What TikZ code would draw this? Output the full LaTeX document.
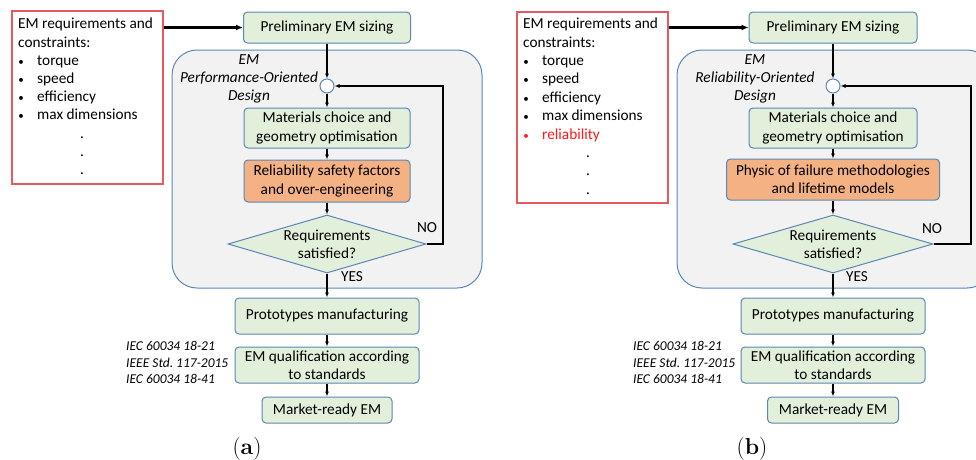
\documentclass[tikz,border=0pt]{standalone}
\usepackage{fontspec}
\newfontfamily\calibri{Carlito}
\usetikzlibrary{arrows.meta,shapes.geometric}
\definecolor{boxgreen}{HTML}{E2EFDA}
\definecolor{boxorange}{HTML}{F4B183}
\definecolor{boxedge}{HTML}{5A87B5}
\definecolor{greyfill}{HTML}{F2F2F2}
\definecolor{rededge}{HTML}{E8585F}
\definecolor{reltext}{HTML}{FF1A1A}
\newcommand{\smbullet}{{\fontsize{11}{11}\selectfont\textbullet}}
\tikzset{
  x=1pt, y=-1pt,
  txt/.style={font=\calibri\fontsize{15.3}{18.3}\selectfont, inner sep=0pt},
  item/.style={txt, anchor=base west},
  bul/.style={txt, anchor=base},
  box/.style={txt, draw=boxedge, line width=1pt, fill=boxgreen, rounded corners=4pt, align=center},
  obox/.style={box, fill=boxorange},
  dia/.style={draw=boxedge, line width=1pt, fill=boxgreen, diamond, inner sep=0pt},
  junc/.style={circle, draw=boxedge, line width=1pt, fill=white, minimum size=14pt, inner sep=0pt},
  redbox/.style={draw=rededge, line width=1.2pt, fill=white, inner sep=0pt},
  greybox/.style={draw=boxedge, line width=1pt, fill=greyfill, rounded corners=25pt},
  flow/.style={line width=1.3pt, -{Latex[length=5pt,width=4pt]}},
  bigflow/.style={line width=2.4pt, -{Latex[length=7pt,width=6pt]}},
  std/.style={font=\calibri\itshape\fontsize{13.5}{16.5}\selectfont, inner sep=0pt, anchor=base west},
  ttl/.style={txt, font=\calibri\itshape\fontsize{15.3}{18.3}\selectfont, align=center},
  subcap/.style={font=\fontsize{23}{26}\selectfont, inner sep=0pt, anchor=base}
}
\begin{document}
\begin{tikzpicture}
\useasboundingbox (0,0) rectangle (976,459);
\begin{scope}
\clip (0,0) rectangle (976,459);
% grey design regions
\path[greybox] (172,50) rectangle (482,288);
\path[greybox] (677,50) rectangle (992,288);
\end{scope}

%%%%%%%%%%%%%%%% Panel (a)
\node[redbox, minimum width=151pt, minimum height=173pt] (redA) at (87.5,97.5) {};
\node[item] (a1) at (18,28.7) {EM requirements and};
\node[item] (a2) at (18,47) {constraints:};
\node[bul] (ab1) at (21,65.2) {\smbullet};
\node[item] (ai1) at (37,65.2) {torque};
\node[bul] (ab2) at (21,83.4) {\smbullet};
\node[item] (ai2) at (37,83.4) {speed};
\node[bul] (ab3) at (21,101.6) {\smbullet};
\node[item] (ai3) at (37,101.6) {efficiency};
\node[bul] (ab4) at (21,119.8) {\smbullet};
\node[item] (ai4) at (37,119.8) {max dimensions};
\node[item] (ad1) at (80,138.5) {.};
\node[item] (ad2) at (80,156.5) {.};
\node[item] (ad3) at (80,174.5) {.};

\node[box, minimum width=167pt, minimum height=31pt] (preA) at (327,27.5) {Preliminary EM sizing};
\node[ttl] (tA) at (249,79) {EM\\Performance-Oriented\\Design};
\node[junc] (cA) at (327,86) {};
\node[box, minimum width=166pt, minimum height=40pt] (matA) at (327,128) {Materials choice and\\geometry optimisation};
\node[obox, minimum width=166pt, minimum height=42pt] (orA) at (327,181) {Reliability safety factors\\and over-engineering};
\node[dia, minimum width=198pt, minimum height=58pt] (dA) at (327,244) {};
\node[txt, align=center] (dtA) at (327,244) {Requirements\\satisfied?};
\node[box, minimum width=184pt, minimum height=36pt] (proA) at (327,316) {Prototypes manufacturing};
\node[box, minimum width=184pt, minimum height=36pt] (quA) at (327,365) {EM qualification according\\to standards};
\node[box, minimum width=130pt, minimum height=26pt] (mkA) at (327,410) {Market-ready EM};
\node[txt] (noA) at (427,228) {NO};
\node[txt] (yesA) at (352,277) {YES};
\node[std] (sA1) at (126,350) {IEC 60034 18-21};
\node[std] (sA2) at (126,367) {IEEE Std.\ 117-2015};
\node[std] (sA3) at (126,383.5) {IEC 60034 18-41};
\node[subcap] (capA) at (247,454) {(\textbf{a})};
\coordinate (fbA) at (443,86);

\draw[bigflow] (redA.east |- preA.west) -- (preA.west);
\draw[flow] (preA.south) -- (cA.north);
\draw[flow] (cA.south) -- (matA.north);
\draw[flow] (matA.south) -- (orA.north);
\draw[flow] (orA.south) -- (dA.north);
\draw[flow] (dA.south) -- (proA.north);
\draw[flow] (proA.south) -- (quA.north);
\draw[flow] (quA.south) -- (mkA.north);
\draw[flow] (dA.east) -| (fbA) -- (cA.east);

%%%%%%%%%%%%%%%% Panel (b)
\node[redbox, minimum width=151pt, minimum height=191pt] (redB) at (592.5,107.5) {};
\node[item] (b1) at (523,28.7) {EM requirements and};
\node[item] (b2) at (523,47) {constraints:};
\node[bul] (bb1) at (526,65.5) {\smbullet};
\node[item] (bi1) at (542,65.5) {torque};
\node[bul] (bb2) at (526,83.8) {\smbullet};
\node[item] (bi2) at (542,83.8) {speed};
\node[bul] (bb3) at (526,102) {\smbullet};
\node[item] (bi3) at (542,102) {efficiency};
\node[bul] (bb4) at (526,120.5) {\smbullet};
\node[item] (bi4) at (542,120.5) {max dimensions};
\node[bul, text=reltext] (bb5) at (526,139.5) {\smbullet};
\node[item, text=reltext] (bi5) at (542,139.5) {reliability};
\node[item] (bd1) at (586,157) {.};
\node[item] (bd2) at (586,175.5) {.};
\node[item] (bd3) at (586,194.5) {.};

\node[box, minimum width=168pt, minimum height=31pt] (preB) at (833,27.5) {Preliminary EM sizing};
\node[ttl] (tB) at (755,79) {EM\\Reliability-Oriented\\Design};
\node[junc] (cB) at (833,86) {};
\node[box, minimum width=168pt, minimum height=40pt] (matB) at (833,128) {Materials choice and\\geometry optimisation};
\node[obox, minimum width=213pt, minimum height=41pt] (orB) at (833,179.5) {Physic of failure methodologies\\and lifetime models};
\node[dia, minimum width=200pt, minimum height=58pt] (dB) at (833,244) {};
\node[txt, align=center] (dtB) at (833,244) {Requirements\\satisfied?};
\node[box, minimum width=184pt, minimum height=36pt] (proB) at (833,316) {Prototypes manufacturing};
\node[box, minimum width=184pt, minimum height=36pt] (quB) at (833,365) {EM qualification according\\to standards};
\node[box, minimum width=131pt, minimum height=26pt] (mkB) at (833,410) {Market-ready EM};
\node[txt] (noB) at (932,229) {NO};
\node[txt] (yesB) at (857,277) {YES};
\node[std] (sB1) at (633,350) {IEC 60034 18-21};
\node[std] (sB2) at (633,367) {IEEE Std.\ 117-2015};
\node[std] (sB3) at (633,383.5) {IEC 60034 18-41};
\node[subcap] (capB) at (752,454) {(\textbf{b})};
\coordinate (fbB) at (971,86);

\draw[bigflow] (redB.east |- preB.west) -- (preB.west);
\draw[flow] (preB.south) -- (cB.north);
\draw[flow] (cB.south) -- (matB.north);
\draw[flow] (matB.south) -- (orB.north);
\draw[flow] (orB.south) -- (dB.north);
\draw[flow] (dB.south) -- (proB.north);
\draw[flow] (proB.south) -- (quB.north);
\draw[flow] (quB.south) -- (mkB.north);
\draw[flow] (dB.east) -| (fbB) -- (cB.east);
\end{tikzpicture}
\end{document}
